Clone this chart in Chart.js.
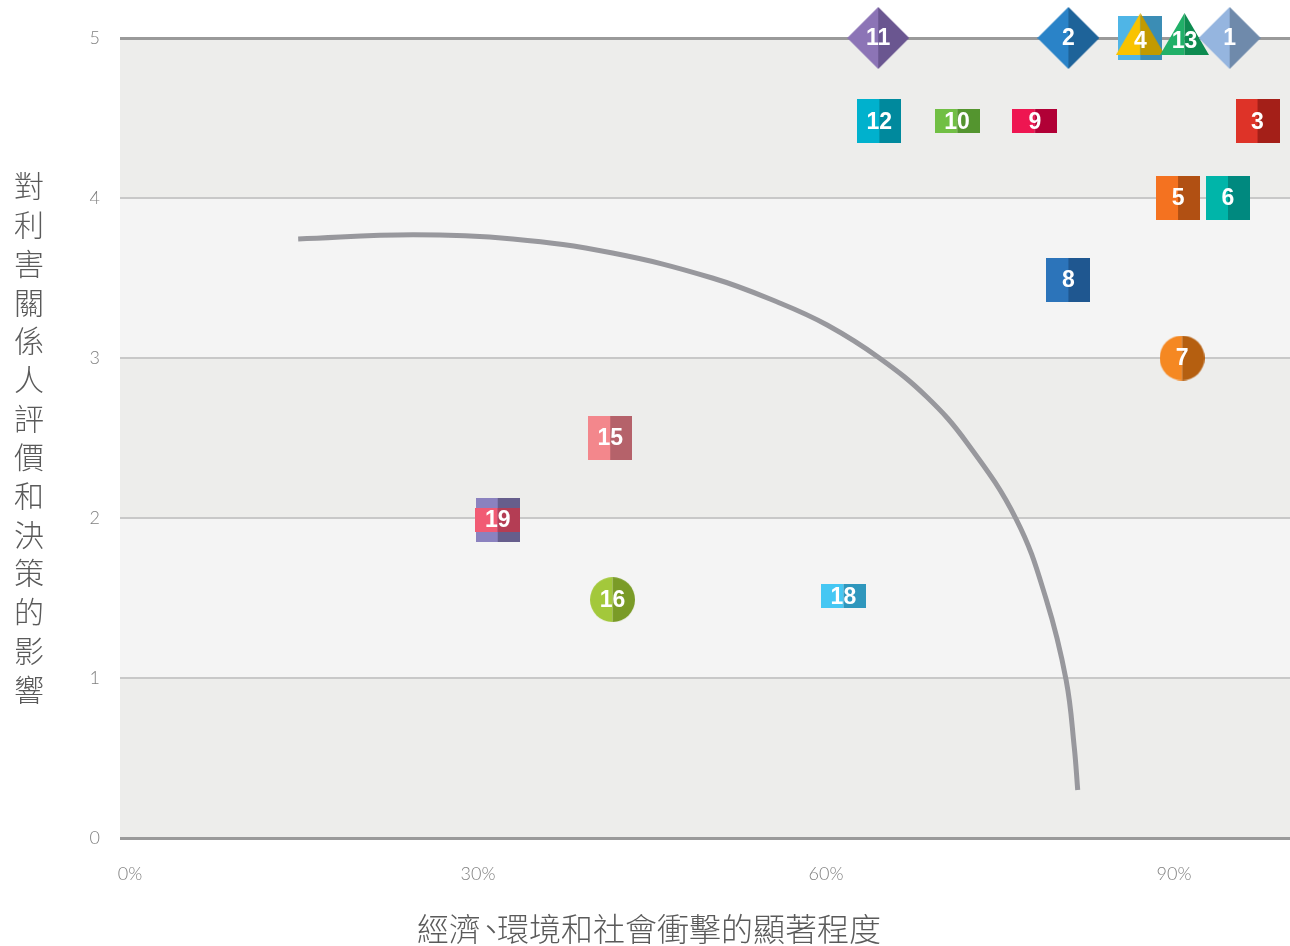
<!DOCTYPE html>
<html>
<head>
<meta charset="utf-8">
<script src="https://cdn.jsdelivr.net/npm/chart.js@4.4.1/dist/chart.umd.min.js"></script>
<style>
  html, body { margin: 0; padding: 0; background: #fff; }
  #wrap { width: 1290px; height: 946px; }
</style>
</head>
<body>
<div id="wrap"><canvas id="matrix" width="1290" height="946"></canvas></div>
<script>
// material topics (front layer)
const topicIds = ['11', '2', '4', '13', '1', '12', '10', '9', '3', '5', '6', '8', '7', '15', '19', '16', '18'];
const impactX = [64.5, 80.9, 87.1, 90.9, 94.8, 64.6, 71.3, 78.0, 97.2, 90.35, 94.65, 80.9, 90.7, 41.4, 31.7, 41.6, 61.5];
const stakeholderY = [5, 5, 5, 5, 5, 4.48, 4.48, 4.48, 4.48, 4.0, 4.0, 3.49, 3.0, 2.5, 1.99, 1.49, 1.51];
const topicShapes = ['diamond', 'diamond', 'triangle', 'triangle', 'diamond', 'square', 'rect', 'rect', 'square',
  'square', 'square', 'square', 'circle', 'square', 'rect', 'circle', 'rect'];
const topicLight = ['#8c74b6', '#2a83c8', '#f9c300', '#21b068', '#95b5df', '#00b1cd', '#71bf44', '#ee1651', '#de3328',
  '#f47220', '#00b5a9', '#2c74ba', '#f58822', '#f3878c', '#f15b74', '#a3c83b', '#45c7f3'];
const topicDark = ['#6a5690', '#1e6399', '#c39a00', '#0e8b50', '#6f8aab', '#00899d', '#54952f', '#b10036', '#a41f18',
  '#b15013', '#00897f', '#1f5790', '#b55f10', '#b5626a', '#b43d54', '#7a9b27', '#2f97bd'];

// topics hidden behind others
const backIds = ['14', '17'];
const backX = [87.1, 31.7];
const backY = [5, 1.99];
const backShapes = ['square', 'square'];
const backLight = ['#4fb5e6', '#8b82bf'];
const backDark = ['#3b8db5', '#665e8c'];

// threshold curve
const curveX = [14.5, 24.4, 33.0, 41.6, 50.2, 56.0, 60.1, 64.6, 68.7, 72.1, 76.4, 79.0, 80.7, 81.4, 81.7];
const curveY = [3.744, 3.77, 3.744, 3.656, 3.5, 3.344, 3.206, 3.0, 2.756, 2.475, 1.992, 1.488, 0.988, 0.569, 0.30];

const xTicks = [0, 30, 60, 90];
const xTitleParts = ['經濟', '、', '環境和社會衝擊的顯著程度'];
const yTitle = '對利害關係人評價和決策的影響';

function makeMarker(shape, light, dark) {
  const dims = { square: [44, 44], rect: [45, 24], diamond: [62, 62], circle: [45, 45], triangle: [49, 50] }[shape];
  const c = document.createElement('canvas');
  const w = dims[0], h = dims[1], mid = w / 2;
  c.width = w; c.height = h;
  const g = c.getContext('2d');
  g.beginPath();
  if (shape === 'diamond') {
    g.moveTo(mid, 0); g.lineTo(w, h / 2); g.lineTo(mid, h); g.lineTo(0, h / 2); g.closePath();
  } else if (shape === 'circle') {
    g.arc(mid, h / 2, w / 2, 0, Math.PI * 2);
  } else if (shape === 'triangle') {
    g.moveTo(mid, 0); g.lineTo(w, 42); g.lineTo(0, 42); g.closePath();
  } else {
    g.rect(0, 0, w, h);
  }
  g.clip();
  g.fillStyle = light; g.fillRect(0, 0, mid, h);
  g.fillStyle = dark; g.fillRect(mid, 0, w - mid, h);
  return c;
}

const bands = {
  id: 'bands',
  beforeDraw(chart) {
    const { ctx, chartArea: a, scales: { y } } = chart;
    ctx.save();
    for (let v = 0; v < 5; v++) {
      ctx.fillStyle = v % 2 === 0 ? '#ededeb' : '#f4f4f4';
      const top = y.getPixelForValue(v + 1), bot = y.getPixelForValue(v);
      ctx.fillRect(a.left, top, a.right - a.left, bot - top);
    }
    ctx.restore();
  }
};

const topicLabels = {
  id: 'topicLabels',
  afterDatasetDraw(chart, args) {
    const ds = chart.data.datasets[args.index];
    if (!ds.topicIds) return;
    const ctx = chart.ctx;
    ctx.save();
    ctx.font = 'bold 23px "Liberation Sans", Arial, sans-serif';
    ctx.fillStyle = '#fff';
    ctx.textAlign = 'center';
    ctx.textBaseline = 'middle';
    args.meta.data.forEach((pt, i) => {
      const dy = ds.shapes[i] === 'triangle' ? 3 : 0;
      ctx.fillText(ds.topicIds[i], pt.x, pt.y + dy + 1);
    });
    ctx.restore();
  }
};

const axisTitles = {
  id: 'axisTitles',
  afterDraw(chart) {
    const ctx = chart.ctx;
    ctx.save();
    ctx.fillStyle = '#5a5a5a';
    ctx.textBaseline = 'middle';
    // x title, with a half-width enumeration comma
    ctx.font = '300 32px "Noto Sans CJK TC", sans-serif';
    const widths = xTitleParts.map((p, i) => i === 1 ? 16 : ctx.measureText(p).width);
    let x = 649 - widths.reduce((a, b) => a + b, 0) / 2;
    ctx.textAlign = 'left';
    xTitleParts.forEach((p, i) => {
      ctx.fillText(p, i === 1 ? x - 6 : x, 929);
      x += widths[i];
    });
    // y title, stacked characters
    ctx.textAlign = 'center';
    ctx.font = '300 30px "Noto Sans CJK TC", sans-serif';
    [...yTitle].forEach((ch, i) => ctx.fillText(ch, 29, 186 + i * 38.7));
    ctx.restore();
  }
};

new Chart(document.getElementById('matrix'), {
  type: 'scatter',
  data: {
    datasets: [
      {
        label: 'topics',
        data: impactX.map((x, i) => ({ x, y: stakeholderY[i] })),
        topicIds, shapes: topicShapes,
        pointStyle: topicShapes.map((s, i) => makeMarker(s, topicLight[i], topicDark[i])),
        pointRadius: 22, pointBorderWidth: 0, clip: false, order: 1,
      },
      {
        label: 'hidden topics',
        data: backX.map((x, i) => ({ x, y: backY[i] })),
        pointStyle: backShapes.map((s, i) => makeMarker(s, backLight[i], backDark[i])),
        pointRadius: 22, pointBorderWidth: 0, clip: false, order: 2,
      },
      {
        label: 'threshold',
        data: curveX.map((x, i) => ({ x, y: curveY[i] })),
        showLine: true, borderColor: '#98989d', borderWidth: 5, borderCapStyle: 'butt',
        pointRadius: 0, tension: 0.4, order: 3,
      },
    ],
  },
  options: {
    responsive: false, animation: false, events: [],
    layout: { autoPadding: false, padding: { top: 38, right: 0, left: 0, bottom: 0 } },
    plugins: { legend: { display: false }, tooltip: { enabled: false } },
    scales: {
      x: {
        type: 'linear', min: -0.86, max: 100,
        afterBuildTicks: s => { s.ticks = xTicks.map(value => ({ value })); },
        afterFit: s => { s.height = 108; },
        grid: { display: false }, border: { display: false },
        ticks: { padding: 17, color: '#808080', font: { family: 'Lato', weight: 300, size: 18 }, callback: v => v + '%' },
      },
      y: {
        min: 0, max: 5,
        afterFit: s => { s.width = 120; },
        border: { display: false },
        grid: {
          drawTicks: false,
          color: c => (c.tick.value === 0 || c.tick.value === 5) ? '#9a9a9a' : '#c8c8c8',
          lineWidth: c => (c.tick.value === 0 || c.tick.value === 5) ? 3 : 2,
        },
        ticks: { stepSize: 1, padding: 20, color: '#808080', font: { family: 'Lato', weight: 300, size: 18 } },
      },
    },
  },
  plugins: [bands, topicLabels, axisTitles],
});
</script>
</body>
</html>
